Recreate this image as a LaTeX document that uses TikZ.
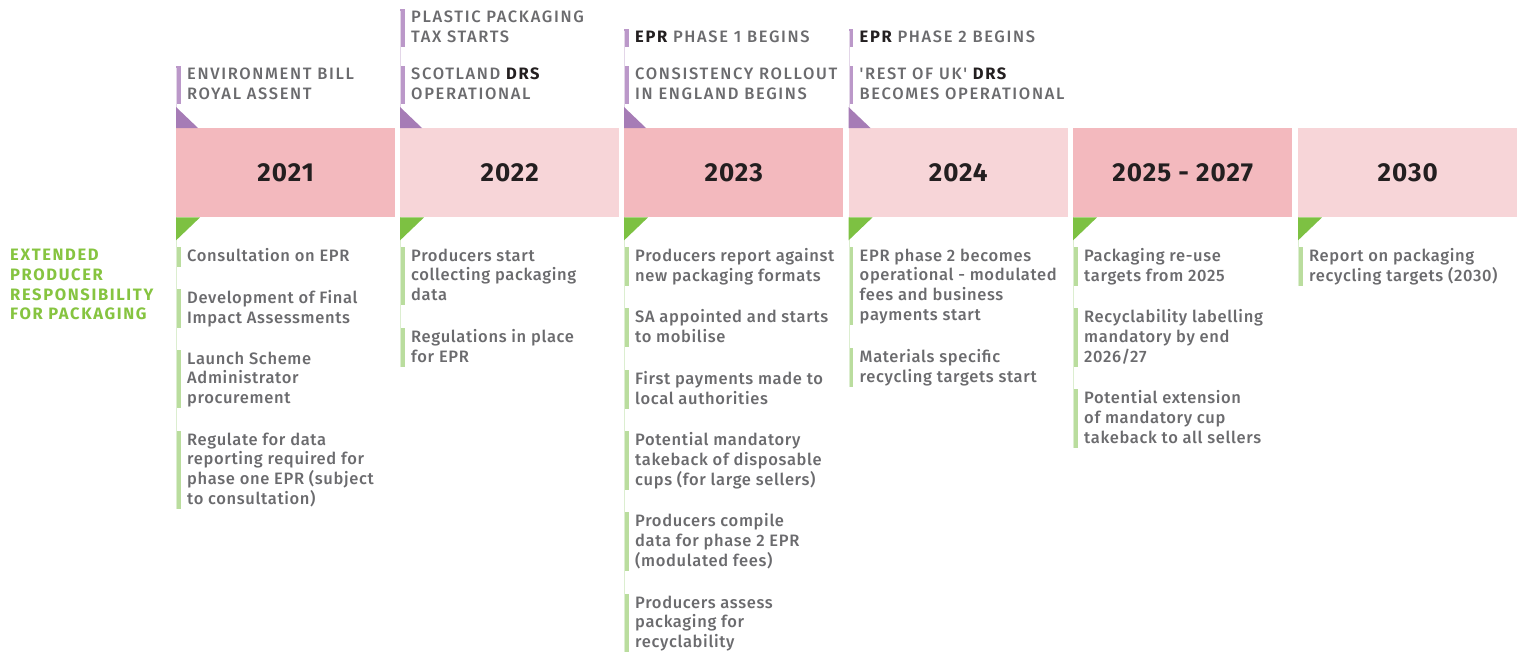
\documentclass[tikz,border=0pt]{standalone}
\usepackage{fontspec}
\setmainfont{Fira Sans}[UprightFont={* Medium},BoldFont={* Bold}]
\newfontfamily\capsfont{Fira Sans}[UprightFont={* Medium},BoldFont={* Bold},LetterSpace=10]
\newfontfamily\bodyfont{Fira Sans}[UprightFont={* Medium},BoldFont={* Bold},LetterSpace=4]
\newfontfamily\yearfont{Fira Sans}[UprightFont={* Medium},BoldFont={* Bold},LetterSpace=4]
\definecolor{darkpink}{HTML}{F3B9BE}
\definecolor{lightpink}{HTML}{F7D5D8}
\definecolor{purp}{HTML}{A67CB6}
\definecolor{purpbar}{HTML}{BB98C9}
\definecolor{thinpurp}{HTML}{E3D6E8}
\definecolor{grn}{HTML}{7DC142}
\definecolor{grnbar}{HTML}{BADD9E}
\definecolor{thingrn}{HTML}{DCEED0}
\definecolor{greytext}{HTML}{6B6B6E}
\definecolor{ink}{HTML}{231F20}
\definecolor{labelgrn}{HTML}{86C440}
\tikzset{
  yearbox/.style={draw=none, minimum width=219pt, minimum height=89pt, anchor=north west, inner sep=0pt, font=\yearfont\bfseries\fontsize{26}{28}\selectfont, text=ink},
  body/.style={anchor=north west, inner sep=0pt, align=left, font=\bodyfont\fontsize{16.5}{19.7}\selectfont, text=greytext},
  head/.style={anchor=north west, inner sep=0pt, align=left, font=\capsfont\fontsize{16.5}{19.3}\selectfont, text=greytext},
  sidelabel/.style={anchor=north west, inner sep=0pt, align=left, font=\capsfont\bfseries\fontsize{16.5}{19.7}\selectfont, text=labelgrn},
  thinp/.style={draw=thinpurp, line width=1pt},
  thing/.style={draw=thingrn, line width=1pt}
}
\newcommand\bodyitem[4]{%
  \node[body] (#1) at (#2+11,#3-6.5) {\rule{0pt}{12pt}#4\rule[-4.5pt]{0pt}{4.5pt}};
  \fill[grnbar] ([xshift=-10pt,yshift=1.5pt]#1.north west) rectangle ([xshift=-6.5pt]#1.south west);
}
\newcommand\headitem[4]{%
  \node[head] (#1) at (#2+11,#3-6.5) {\rule{0pt}{12pt}#4\rule[-4.5pt]{0pt}{4.5pt}};
  \fill[purpbar] ([xshift=-11pt,yshift=1.5pt]#1.north west) rectangle ([xshift=-6.5pt]#1.south west);
}
\newcommand\hl[1]{{\bfseries\color{ink}#1}}
\begin{document}
\begin{tikzpicture}[x=1pt,y=-1pt]
\useasboundingbox[fill=white] (0,0) rectangle (1524,651);

% year boxes
\node[yearbox, fill=darkpink]  (y2021) at (176,128)  {2021};
\node[yearbox, fill=lightpink] (y2022) at (400,128)  {2022};
\node[yearbox, fill=darkpink]  (y2023) at (624,128)  {2023};
\node[yearbox, fill=lightpink] (y2024) at (848.5,128)  {2024};
\node[yearbox, fill=darkpink]  (y2025) at (1073,128) {2025 - 2027};
\node[yearbox, fill=lightpink] (y2030) at (1298,128) {2030};

% side label
\node[sidelabel] (side) at (10,255-6.5) {\rule{0pt}{12pt}EXTENDED\\PRODUCER\\RESPONSIBILITY\\FOR PACKAGING};

% headers
\headitem{h21a}{176}{74}{ENVIRONMENT BILL\\ROYAL ASSENT}
\headitem{h22a}{400}{17}{PLASTIC PACKAGING\\TAX STARTS}
\headitem{h22b}{400}{74}{SCOTLAND \hl{DRS}\\OPERATIONAL}
\headitem{h23a}{624}{37}{\hl{EPR} PHASE 1 BEGINS}
\headitem{h23b}{624}{74}{CONSISTENCY ROLLOUT\\IN ENGLAND BEGINS}
\headitem{h24a}{848.5}{37}{\hl{EPR} PHASE 2 BEGINS}
\headitem{h24b}{848.5}{74}{'REST OF UK' \hl{DRS}\\BECOMES OPERATIONAL}

% body items
\bodyitem{b21a}{176}{255}{Consultation on EPR}
\bodyitem{b21b}{176}{297}{Development of Final\\Impact Assessments}
\bodyitem{b21c}{176}{358}{Launch Scheme\\Administrator\\procurement}
\bodyitem{b21d}{176}{439}{Regulate for data\\reporting required for\\phase one EPR (subject\\to consultation)}

\bodyitem{b22a}{400}{255}{Producers start\\collecting packaging\\data}
\bodyitem{b22b}{400}{336}{Regulations in place\\for EPR}

\bodyitem{b23a}{624}{255}{Producers report against\\new packaging formats}
\bodyitem{b23b}{624}{316}{SA appointed and starts\\to mobilise}
\bodyitem{b23c}{624}{378}{First payments made to\\local authorities}
\bodyitem{b23d}{624}{439}{Potential mandatory\\takeback of disposable\\cups (for large sellers)}
\bodyitem{b23e}{624}{520}{Producers compile\\data for phase 2 EPR\\(modulated fees)}
\bodyitem{b23f}{624}{602}{Producers assess\\packaging for\\recyclability}

\bodyitem{b24a}{848.5}{255}{EPR phase 2 becomes\\operational - modulated\\fees and business\\payments start}
\bodyitem{b24b}{848.5}{356}{Materials specific\\recycling targets start}

\bodyitem{b25a}{1073}{255}{Packaging re-use\\targets from 2025}
\bodyitem{b25b}{1073}{316}{Recyclability labelling\\mandatory by end\\2026/27}
\bodyitem{b25c}{1073}{397}{Potential extension\\of mandatory cup\\takeback to all sellers}

\bodyitem{b30a}{1298}{255}{Report on packaging\\recycling targets (2030)}

% thin connecting lines above boxes
\draw[thinp] ([xshift=0.5pt]y2021.north west) -- ([xshift=0.5pt]y2021.north west |- h21a.north);
\draw[thinp] ([xshift=0.5pt]y2022.north west) -- ([xshift=0.5pt]y2022.north west |- h22a.north);
\draw[thinp] ([xshift=0.5pt]y2023.north west) -- ([xshift=0.5pt]y2023.north west |- h23a.north);
\draw[thinp] ([xshift=0.5pt]y2024.north west) -- ([xshift=0.5pt]y2024.north west |- h24a.north);

% thin connecting lines below boxes
\draw[thing] ([xshift=0.5pt]y2021.south west) -- ([xshift=0.5pt]y2021.south west |- b21d.south);
\draw[thing] ([xshift=0.5pt]y2022.south west) -- ([xshift=0.5pt]y2022.south west |- b22b.south);
\draw[thing] ([xshift=0.5pt]y2023.south west) -- ([xshift=0.5pt]y2023.south west |- b23f.south);
\draw[thing] ([xshift=0.5pt]y2024.south west) -- ([xshift=0.5pt]y2024.south west |- b24b.south);
\draw[thing] ([xshift=0.5pt]y2025.south west) -- ([xshift=0.5pt]y2025.south west |- b25c.south);
\draw[thing] ([xshift=0.5pt]y2030.south west) -- ([xshift=0.5pt]y2030.south west |- b30a.south);

% purple flags above
\foreach \y in {y2021,y2022,y2023,y2024}
  \fill[purp] (\y.north west) -- ++(0,-21) -- ++(22,21) -- cycle;
% green flags below
\foreach \y in {y2021,y2022,y2023,y2024,y2025,y2030}
  \fill[grn] (\y.south west) -- ++(24,0) -- ++(-24,23) -- cycle;
\end{tikzpicture}
\end{document}
